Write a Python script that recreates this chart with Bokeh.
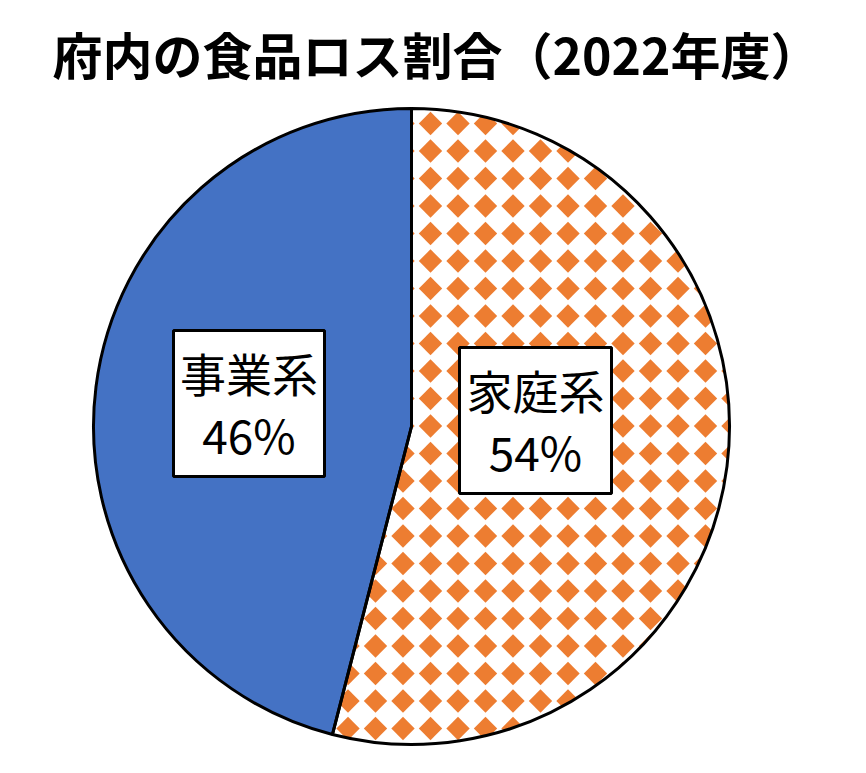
import numpy as np
from bokeh.plotting import figure
from bokeh.models import Range1d, Label, BoxAnnotation
from bokeh.embed import file_html
from bokeh.resources import INLINE

# ---- data ----
title_text = "府内の食品ロス割合（2022年度）"
categories = ["事業系", "家庭系"]
shares = [46, 54]
slice_colors = ["#4472C4", "#ED7D31"]

# ---- layout ----
W, H = 850, 757
R_PX = 318.0
CX, CY = 411.0, 426.0  # pie centre in pixels (from top-left)

p = figure(width=W, height=H, output_backend="svg", toolbar_location=None,
           x_range=Range1d(-CX / R_PX, (W - CX) / R_PX),
           y_range=Range1d(-(H - CY) / R_PX, CY / R_PX),
           min_border=0)
p.axis.visible = False
p.grid.visible = False
p.outline_line_color = None
p.background_fill_color = "white"
p.border_fill_color = "white"

# angles from the data, starting at 12 o'clock going counter-clockwise
total = float(sum(shares))
fr = np.array(shares) / total
ends = np.pi / 2 + 2 * np.pi * np.cumsum(fr)
starts = np.concatenate([[np.pi / 2], ends[:-1]])

# ---- pattern fill for the 家庭系 slice (orange diamond grid) ----
step = 27.5 / R_PX
x0 = (430 - CX) / R_PX
y0 = (CY - 123) / R_PX
gx = x0 + step * np.arange(-20, 20)
gy = y0 - step * np.arange(-5, 35)
GX, GY = np.meshgrid(gx, gy)
mask = np.hypot(GX, GY) < 1.08
p.scatter(GX[mask], GY[mask], marker="square", size=16.5, angle=np.pi / 4,
          fill_color=slice_colors[1], line_color=None)

# white mask outside the circle
p.annulus(x=0, y=0, inner_radius=1.0, outer_radius=3.0,
          fill_color="white", line_color=None)

# 事業系 solid slice
p.wedge(x=0, y=0, radius=1.0, start_angle=starts[0], end_angle=ends[0],
        fill_color=slice_colors[0], line_color="black", line_width=3)
# 家庭系 outline (pattern already drawn)
p.wedge(x=0, y=0, radius=1.0, start_angle=starts[1], end_angle=ends[1],
        fill_color=None, line_color="black", line_width=3)

# ---- title ----
p.add_layout(Label(x=52, y=H - 52, x_units="screen", y_units="screen",
                   text=title_text, text_font="Noto Sans CJK JP",
                   text_font_style="bold", text_font_size="50px",
                   text_color="black", text_align="left",
                   text_baseline="middle"))

# ---- data labels (box + two lines) ----
boxes = [(173, 324, 330, 476), (459, 611, 347, 493)]  # left, right, top, bottom (px from top)
for (bl, br, bt, bb), c, s in zip(boxes, categories, shares):
    p.add_layout(BoxAnnotation(left=bl, right=br, top=H - bt, bottom=H - bb,
                               left_units="screen", right_units="screen",
                               top_units="screen", bottom_units="screen",
                               fill_color="white", fill_alpha=1.0,
                               line_color="black", line_alpha=1.0, line_width=3))
    cx = (bl + br) / 2
    cy = (bt + bb) / 2
    for txt, dy in ((c, -32), (f"{s}%", 30)):
        p.add_layout(Label(x=cx, y=H - (cy + dy), x_units="screen", y_units="screen",
                           text=txt, text_font="Noto Sans CJK JP",
                           text_font_size="46px", text_color="black",
                           text_align="center", text_baseline="middle"))

open("out.html", "w").write(file_html(p, INLINE))
